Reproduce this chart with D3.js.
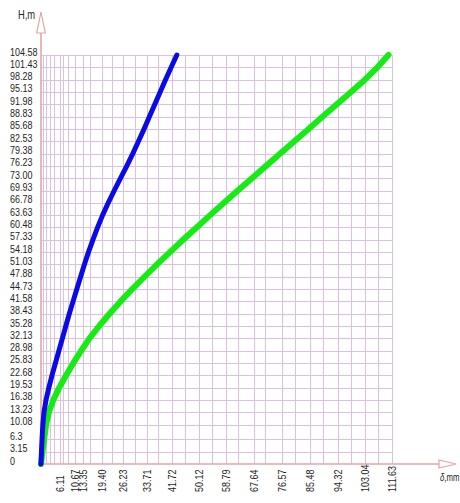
<!DOCTYPE html>
<html><head><meta charset="utf-8">
<script src="https://cdn.jsdelivr.net/npm/d3@7/dist/d3.min.js"></script>
<style>
html,body{margin:0;padding:0;background:#fff;}
svg{display:block;}
text{font-family:"Liberation Sans",Arial,sans-serif;fill:#1e1e1e;}
</style></head>
<body>
<svg id="c" width="460" height="503"></svg>
<script>
// ---- data ----
const heights = [0,3.15,6.3,10.08,13.23,16.38,19.53,22.68,25.83,28.98,32.13,35.28,38.43,41.58,44.73,47.88,51.03,54.18,57.33,60.48,63.63,66.78,69.93,73.08,76.23,79.38,82.53,85.68,88.83,91.98,95.13,98.28,101.43,104.58];
const yTickLabels = ["0","3.15","6.3","10.08","13.23","16.38","19.53","22.68","25.83","28.98","32.13","35.28","38.43","41.58","44.73","47.88","51.03","54.18","57.33","60.48","63.63","66.78","69.93","73.00","76.23","79.38","82.53","85.68","88.83","91.98","95.13","98.28","101.43","104.58"];
const xTicks = [6.11,10.67,13.35,19.40,26.23,33.71,41.72,50.12,58.79,67.64,76.57,85.48,94.32,103.04,111.63];
const xTickLabels = ["6.11","10.67","13.35","19.40","26.23","33.71","41.72","50.12","58.79","67.64","76.57","85.48","94.32","103.04","111.63"];
const xGridExtra = [0.73,1.59,2.86,4.13,7.09,8.68,15.6,22.5,29.9,37.3,45.8,54.3,62.8,71.2,80.8,89.8,98.5,107.3];
const blueDefl = [0,0.15,0.32,0.6,0.95,1.6,2.5,3.5,4.6,5.7,6.8,7.9,9.0,10.2,11.4,12.6,13.8,15.1,16.5,18.0,19.6,21.4,23.3,25.3,27.3,29.2,31.0,32.8,34.5,36.2,37.9,39.6,41.4,43.2];
const greenDefl = [0,0.5,1.0,1.6,2.5,3.9,5.8,8.0,10.3,12.8,15.4,18.5,21.8,25.3,29.0,32.9,36.9,41.0,45.2,49.5,53.8,58.2,62.6,67.1,71.6,76.1,80.6,85.1,89.6,94.1,98.6,103.0,107.0,110.5];

// ---- chart ----
const svg = d3.select("#c");
const x = d3.scaleLinear().domain([0, 111.63]).range([41, 392]);
const y = d3.scaleLinear().domain([0, 104.58]).range([464, 55]);
const gridColor = "#dcc0e2";
const axisColor = "#e6a4a4";
const SX = 0.78; // condensed text look

const grid = svg.append("g");
grid.selectAll("line.h").data(heights.slice(1)).join("line")
  .attr("x1", x(0)).attr("x2", x(111.63))
  .attr("y1", d => Math.round(y(d)) + 0.5).attr("y2", d => Math.round(y(d)) + 0.5)
  .attr("stroke", gridColor).attr("stroke-width", 1);
const allGridX = xTicks.concat(xGridExtra);
grid.selectAll("line.v").data(allGridX).join("line")
  .attr("x1", d => Math.round(x(d)) + 0.5).attr("x2", d => Math.round(x(d)) + 0.5)
  .attr("y1", y(0)).attr("y2", y(104.58))
  .attr("stroke", gridColor).attr("stroke-width", 1);

// axes
svg.append("line").attr("x1", x(0)).attr("x2", 440).attr("y1", y(0)).attr("y2", y(0))
  .attr("stroke", axisColor).attr("stroke-width", 1.6);
svg.append("line").attr("x1", x(0)).attr("x2", x(0)).attr("y1", y(0)).attr("y2", 33)
  .attr("stroke", axisColor).attr("stroke-width", 1.6);
svg.append("path").attr("d", `M${x(0)},12 L${x(0)+4.3},33 L${x(0)-4.3},33 Z`)
  .attr("fill", "#fff").attr("stroke", axisColor).attr("stroke-width", 1.2);
svg.append("path").attr("d", `M456,${y(0)} L439,${y(0)-4} L439,${y(0)+4} Z`)
  .attr("fill", "#fff").attr("stroke", axisColor).attr("stroke-width", 1.2);

// y tick labels
svg.append("g").selectAll("text").data(heights).join("text")
  .attr("transform", d => `translate(10,${y(d) + 0.5}) scale(${SX},1)`)
  .attr("font-size", 11.5)
  .text((d, i) => yTickLabels[i]);

// x tick labels (rotated)
svg.append("g").selectAll("text").data(xTicks).join("text")
  .attr("transform", d => `translate(${x(d) + 4},492) rotate(-90) scale(${SX},1)`)
  .attr("font-size", 11.5)
  .text((d, i) => xTickLabels[i]);

// axis titles
svg.append("text").attr("transform", `translate(18,19) scale(${SX},1)`).attr("font-size", 12).text("H,m");
svg.append("text").attr("transform", `translate(440,481) scale(${SX},1)`).attr("font-size", 10).attr("fill", "#444")
  .html('<tspan font-style="italic">δ</tspan>,mm');

// curves
const line = d3.line().x(d => x(d[0])).y(d => y(d[1])).curve(d3.curveLinear);
const greenPts = greenDefl.map((v, i) => [v, heights[i]]);
const bluePts = blueDefl.map((v, i) => [v, heights[i]]);
svg.append("path").datum(greenPts).attr("d", line)
  .attr("fill", "none").attr("stroke", "#14ec14").attr("stroke-width", 6)
  .attr("stroke-linecap", "round").attr("stroke-linejoin", "round");
svg.append("path").datum(bluePts).attr("d", line)
  .attr("fill", "none").attr("stroke", "#0a0ae6").attr("stroke-width", 5)
  .attr("stroke-linecap", "round").attr("stroke-linejoin", "round");
</script>
</body></html>
